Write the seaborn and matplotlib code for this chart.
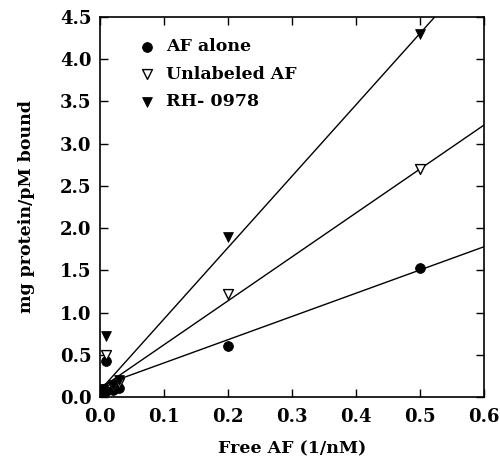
import numpy as np
import pandas as pd
import matplotlib
matplotlib.use('Agg')
import matplotlib.pyplot as plt
import seaborn as sns

# Data
af_x = [0.005, 0.01, 0.01, 0.02, 0.03, 0.2, 0.5]
af_y = [0.04, 0.43, 0.07, 0.08, 0.11, 0.60, 1.53]

unl_x = [0.005, 0.01, 0.02, 0.03, 0.2, 0.5]
unl_y = [0.08, 0.50, 0.12, 0.17, 1.22, 2.70]

rh_x = [0.005, 0.01, 0.02, 0.03, 0.2, 0.5]
rh_y = [0.10, 0.72, 0.14, 0.20, 1.90, 4.30]

series_names = ['AF alone', 'Unlabeled AF', 'RH- 0978']
fit_intercepts = [0.13, 0.10, 0.08]
fit_slopes = [2.75, 5.20, 8.45]

sns.set_style('ticks')
plt.rcParams['font.family'] = ['DejaVu Serif']
plt.rcParams['font.weight'] = 'bold'
plt.rcParams['text.color'] = 'black'
plt.rcParams['axes.labelcolor'] = 'black'
plt.rcParams['xtick.color'] = 'black'
plt.rcParams['ytick.color'] = 'black'
plt.rcParams['axes.edgecolor'] = 'black'

fig = plt.figure(figsize=(5.0, 4.57), dpi=100)
ax = fig.add_axes([0.2, 0.131, 0.768, 0.832])

# fitted lines
xs = np.linspace(0, 0.6, 50)
for b, m in zip(fit_intercepts, fit_slopes):
    ax.plot(xs, b + m * xs, color='black', lw=1.0, zorder=1)

sns.scatterplot(x=af_x, y=af_y, ax=ax, marker='o', s=50, color='black',
                edgecolor='black', label=series_names[0], zorder=3)
sns.scatterplot(x=unl_x, y=unl_y, ax=ax, marker='v', s=50, facecolor='white',
                edgecolor='black', linewidth=1.0, label=series_names[1], zorder=3)
sns.scatterplot(x=rh_x, y=rh_y, ax=ax, marker='v', s=50, color='black',
                edgecolor='black', label=series_names[2], zorder=3)

ax.set_xlim(0, 0.6)
ax.set_ylim(0, 4.5)
ax.set_xticks(np.arange(0, 0.61, 0.1))
ax.set_yticks(np.arange(0, 4.51, 0.5))
ax.xaxis.set_major_formatter(plt.FormatStrFormatter('%.1f'))
ax.yaxis.set_major_formatter(plt.FormatStrFormatter('%.1f'))
ax.tick_params(direction='in', top=True, right=True, length=6, width=1,
               labelsize=13)
ax.tick_params(axis='x', pad=8)
ax.tick_params(axis='y', pad=6)
for lab in ax.get_xticklabels() + ax.get_yticklabels():
    lab.set_fontweight('bold')
for sp in ax.spines.values():
    sp.set_linewidth(1.2)

ax.set_xlabel('Free AF (1/nM)', fontsize=12.5, fontweight='bold', labelpad=10)
ax.set_ylabel('mg protein/pM bound', fontsize=12.5, fontweight='bold', labelpad=18)

leg = ax.legend(loc='upper left', bbox_to_anchor=(0.06, 0.985), frameon=False,
                fontsize=12.5, handletextpad=0.6, labelspacing=0.6,
                handlelength=1.0, markerscale=1.0)
for t in leg.get_texts():
    t.set_fontweight('bold')

fig.savefig('out.png', dpi=100)
